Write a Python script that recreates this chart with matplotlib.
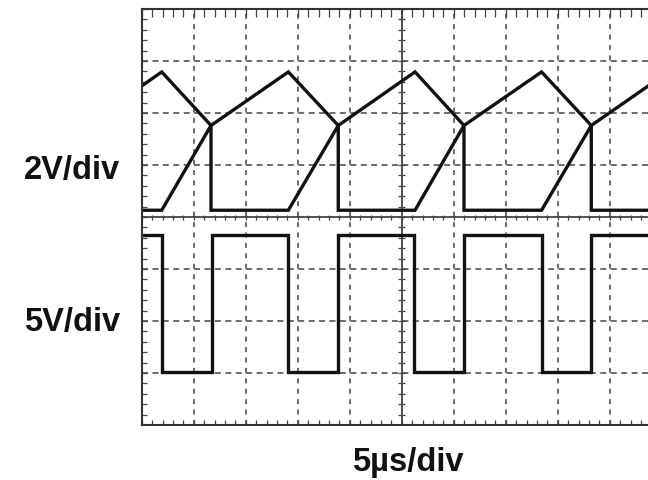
import numpy as np
import matplotlib.pyplot as plt

plt.rcParams['lines.scale_dashes'] = False

# screen units: x in divisions (5us/div), y in divisions from centre line
# channel 1 (2V/div) - triangular waveform
tri_t = [0.0, 0.385, 1.333, 2.82, 3.78, 5.256, 6.198, 7.69, 8.646, 10.0]
tri_v = [2.52, 2.79, 1.76, 2.79, 1.76, 2.79, 1.76, 2.79, 1.76, 2.70]

# channel 1 (2V/div) - ramp with reset
ramp_t = [0.0, 0.385, 1.333, 1.333, 2.82, 3.78, 3.78, 5.256, 6.198, 6.198,
          7.69, 8.646, 8.646, 10.0]
ramp_v = [0.13, 0.13, 1.76, 0.13, 0.13, 1.76, 0.13, 0.13, 1.76, 0.13,
          0.13, 1.76, 0.13, 0.13]

# channel 2 (5V/div) - square wave
sq_t = [0.0, 0.385, 0.385, 1.345, 1.345, 2.82, 2.82, 3.78, 3.78, 5.24, 5.24,
        6.198, 6.198, 7.69, 7.69, 8.646, 8.646, 10.0]
sq_v = [-0.35, -0.35, -2.98, -2.98, -0.35, -0.35, -2.98, -2.98, -0.35, -0.35,
        -2.98, -2.98, -0.35, -0.35, -2.98, -2.98, -0.35, -0.35]

W, H = 648, 481
fig = plt.figure(figsize=(W / 100, H / 100), dpi=100)
# 52 px per division, screen is 10 x 8 div, right part falls off the page
ax = fig.add_axes([141.7 / W, (H - 426) / H, 520 / W, 416 / H])
ax.set_xlim(0, 10)
ax.set_ylim(-4, 4)
ax.set_xticks([])
ax.set_yticks([])
for s in ax.spines.values():
    s.set_linewidth(1.5)
    s.set_color('#333333')

grid_c = '#444444'
for x in [1, 2, 3, 4, 6, 7, 8, 9]:
    ax.axvline(x, color=grid_c, lw=1.1, dashes=(3.6, 3.9))
for y in [-3, -2, -1, 1, 2, 3]:
    ax.axhline(y, color=grid_c, lw=1.1, dashes=(4.3, 3.2))
ax.axvline(5, color='#333333', lw=1.2)
ax.axhline(0, color='#333333', lw=1.2)

# minor ticks on graticule
xm = np.arange(0, 10.01, 0.2)
ym = np.arange(-4, 4.01, 0.2)
px = 1 / 52
ax.vlines(xm, 4 - 8 * px, 4, color='#444444', lw=0.9)
ax.vlines(xm, -4, -4 + 5 * px, color='#444444', lw=0.9)
ax.vlines(xm, -2.5 * px, 2.5 * px, color='#444444', lw=0.9)
ax.hlines(ym, 0, 5 * px, color='#444444', lw=0.9)
ax.hlines(ym, 5 - 3.5 * px, 5 + 3.5 * px, color='#444444', lw=0.9)

lw = 2.4
ax.plot(tri_t, tri_v, color='#111111', lw=lw, solid_joinstyle='miter')
ax.plot(ramp_t, ramp_v, color='#111111', lw=lw, solid_joinstyle='miter')
ax.plot(sq_t, sq_v, color='#111111', lw=lw, solid_joinstyle='miter')

font = dict(family=['Liberation Sans', 'DejaVu Sans'], fontweight='bold',
            fontsize=23.5, color='#111111', ha='center', va='center')
fig.text(71.7 / W, 1 - 170 / H, '2V/div', **font)
fig.text(71.7 / W, 1 - 322 / H, '5V/div', **font)
fig.text(408 / W, 1 - 463 / H, '5\u00b5s/div', **font)

fig.savefig('out.png', dpi=100)
